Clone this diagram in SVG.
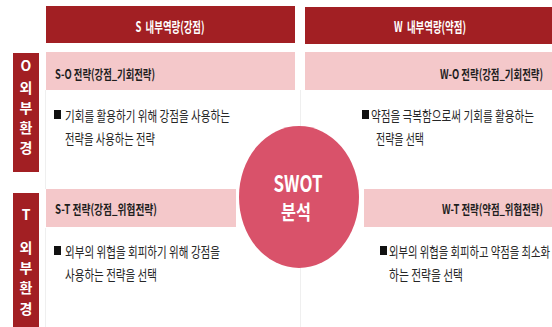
<svg xmlns="http://www.w3.org/2000/svg" width="552" height="327" viewBox="0 0 552 327">
<style>
.hdr{fill:#A21F23}
.bar{fill:#F4C8CA}
.side{fill:#A21F23}
.wt{fill:#ffffff;font-family:"Noto Sans CJK KR","Noto Sans",sans-serif;font-weight:700}
.lab{fill:#1e1e1e;font-family:"Noto Sans CJK KR","Noto Sans",sans-serif;font-weight:700;font-size:13px}
.body{fill:#262626;font-family:"Noto Sans CJK KR","Noto Sans",sans-serif;font-weight:400;font-size:14px}
.grid{stroke:#efefef;stroke-width:1;fill:none}
</style>
<rect width="552" height="327" fill="#ffffff"/>
<g id="connectors">
<line class="grid" x1="45.5" y1="90" x2="45.5" y2="189"/>
<line class="grid" x1="45.5" y1="228" x2="45.5" y2="327"/>
<line class="grid" x1="300.5" y1="90" x2="300.5" y2="327"/>
</g>
<g id="header-s">
<rect class="hdr" x="46" y="6" width="249" height="37"/>
<text class="wt" x="170" y="32" font-size="14" text-anchor="middle" textLength="69" lengthAdjust="spacingAndGlyphs">S&#160; 내부역량(강점)</text>
</g>
<g id="header-w">
<rect class="hdr" x="305" y="7" width="247" height="37"/>
<text class="wt" x="430" y="32" font-size="14" text-anchor="middle" textLength="72" lengthAdjust="spacingAndGlyphs">W&#160; 내부역량(약점)</text>
</g>
<g id="side-o">
<rect class="side" x="13" y="53" width="26" height="119"/>
<g class="wt" font-size="14" text-anchor="middle">
<text x="26" y="71">O</text>
<text x="26" y="93">외</text>
<text x="26" y="113">부</text>
<text x="26" y="133">환</text>
<text x="26" y="153">경</text>
</g>
</g>
<g id="side-t">
<rect class="side" x="13" y="193" width="26" height="134"/>
<g class="wt" font-size="14" text-anchor="middle">
<text x="26" y="220">T</text>
<text x="26" y="253">외</text>
<text x="26" y="273">부</text>
<text x="26" y="293">환</text>
<text x="26" y="314">경</text>
</g>
</g>
<g id="so">
<rect class="bar" x="46" y="52" width="249" height="38"/>
<text class="lab" x="55" y="79" textLength="100" lengthAdjust="spacingAndGlyphs">S-O 전략(강점_기회전략)</text>
<rect x="54" y="110" width="7" height="9" fill="#111"/>
<text class="body" x="65" y="121" textLength="165" lengthAdjust="spacingAndGlyphs">기회를 활용하기 위해 강점을 사용하는</text>
<text class="body" x="65" y="144" textLength="90" lengthAdjust="spacingAndGlyphs">전략을 사용하는 전략</text>
</g>
<g id="wo">
<rect class="bar" x="305" y="52" width="247" height="38"/>
<text class="lab" x="440" y="79" textLength="103" lengthAdjust="spacingAndGlyphs">W-O 전략(강점_기회전략)</text>
<rect x="362" y="110" width="7" height="9" fill="#111"/>
<text class="body" x="371" y="121" textLength="163" lengthAdjust="spacingAndGlyphs">약점을 극복함으로써 기회를 활용하는</text>
<text class="body" x="376" y="144" textLength="48" lengthAdjust="spacingAndGlyphs">전략을 선택</text>
</g>
<g id="st">
<rect class="bar" x="46" y="189" width="190" height="38"/>
<text class="lab" x="55" y="214" textLength="102" lengthAdjust="spacingAndGlyphs">S-T 전략(강점_위협전략)</text>
<rect x="54" y="246" width="7" height="9" fill="#111"/>
<text class="body" x="65" y="257" textLength="155" lengthAdjust="spacingAndGlyphs">외부의 위협을 회피하기 위해 강점을</text>
<text class="body" x="65" y="280" textLength="92" lengthAdjust="spacingAndGlyphs">사용하는 전략을 선택</text>
</g>
<g id="wt">
<rect class="bar" x="364" y="189" width="188" height="38"/>
<text class="lab" x="442" y="214" textLength="101" lengthAdjust="spacingAndGlyphs">W-T 전략(약점_위협전략)</text>
<rect x="380" y="246" width="7" height="9" fill="#111"/>
<text class="body" x="389" y="257" textLength="161" lengthAdjust="spacingAndGlyphs">외부의 위협을 회피하고 약점을 최소화</text>
<text class="body" x="389" y="280" textLength="74" lengthAdjust="spacingAndGlyphs">하는 전략을 선택</text>
</g>
<g id="swot">
<ellipse cx="299" cy="197" rx="60" ry="71" fill="#D9526A"/>
<text class="wt" x="298" y="192" font-size="23" text-anchor="middle" textLength="49" lengthAdjust="spacingAndGlyphs">SWOT</text>
<text class="wt" x="296" y="220" font-size="20" text-anchor="middle" textLength="30" lengthAdjust="spacingAndGlyphs">분석</text>
</g>
</svg>
